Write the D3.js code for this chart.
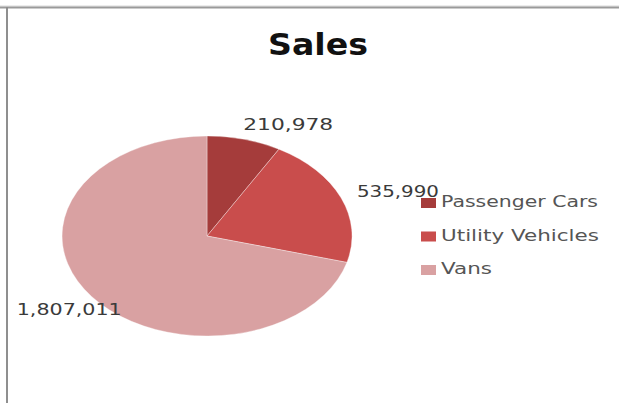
<!DOCTYPE html>
<html>
<head>
<meta charset="utf-8">
<script src="https://cdn.jsdelivr.net/npm/d3@7"></script>
<style>
  html, body { margin: 0; padding: 0; background: #fff; }
  svg { display: block; }
</style>
</head>
<body>
<svg id="chart" width="619" height="403"></svg>
<script>
// Sales by vehicle type
const categories = ["Passenger Cars", "Utility Vehicles", "Vans"];
const values = [210978, 535990, 1807011];
const colors = ["#a53c3b", "#c94d4c", "#d9a1a2"];
const title = "Sales";

const W = 619, H = 403;
const svg = d3.select("#chart");

// frame lines
svg.append("line").attr("x1", 0).attr("x2", W).attr("y1", 6).attr("y2", 6)
  .attr("stroke", "#d8d8d8").attr("stroke-width", 1);
svg.append("line").attr("x1", 0).attr("x2", W).attr("y1", 7.5).attr("y2", 7.5)
  .attr("stroke", "#9a9a9a").attr("stroke-width", 2);
svg.append("line").attr("x1", 7).attr("x2", 7).attr("y1", 7).attr("y2", H)
  .attr("stroke", "#8f8f8f").attr("stroke-width", 2);

// title
svg.append("text")
  .attr("x", 318).attr("y", 55)
  .attr("text-anchor", "middle")
  .attr("font-family", "DejaVu Sans, Verdana, sans-serif")
  .attr("font-weight", "bold")
  .attr("font-size", 30)
  .attr("fill", "#111")
  .attr("textLength", 100).attr("lengthAdjust", "spacingAndGlyphs")
  .text(title);

// elliptical pie
const cx = 207, cy = 236, rx = 145, ry = 100;
const pie = d3.pie().sort(null).value(d => d)(values);
const arc = d3.arc().innerRadius(0).outerRadius(1);

const g = svg.append("g").attr("transform", `translate(${cx},${cy}) scale(${rx},${ry})`);
g.selectAll("path.slice")
  .data(pie)
  .join("path")
  .attr("class", "slice")
  .attr("d", arc)
  .attr("fill", (d, i) => colors[i])
  .attr("stroke", "rgba(255,255,255,0.35)")
  .attr("stroke-width", 1)
  .attr("vector-effect", "non-scaling-stroke");

// data labels placed from each slice's outer edge at its mid angle
const fmt = d3.format(",");
const labelOffsets = [
  { dx: -1, dy: -9, anchor: "start", len: 90 },
  { dx: 16, dy: -1, anchor: "start", len: 82 },
  { dx: 30, dy: 18, anchor: "end", len: 105 }
];
svg.selectAll("text.val")
  .data(pie)
  .join("text")
  .attr("class", "val")
  .attr("x", (d, i) => {
    const a = (d.startAngle + d.endAngle) / 2;
    return cx + rx * Math.sin(a) + labelOffsets[i].dx;
  })
  .attr("y", (d, i) => {
    const a = (d.startAngle + d.endAngle) / 2;
    return cy - ry * Math.cos(a) + labelOffsets[i].dy;
  })
  .attr("text-anchor", (d, i) => labelOffsets[i].anchor)
  .attr("font-family", "DejaVu Sans, Verdana, sans-serif")
  .attr("font-size", 15)
  .attr("fill", "#3a3a3a")
  .attr("textLength", (d, i) => labelOffsets[i].len)
  .attr("lengthAdjust", "spacingAndGlyphs")
  .text(d => fmt(d.value));

// legend
const legendY = d3.scalePoint().domain(categories).range([207, 274]);
const legend = svg.selectAll("g.leg")
  .data(categories)
  .join("g")
  .attr("class", "leg")
  .attr("transform", d => `translate(421,${legendY(d)})`);
legend.append("rect")
  .attr("x", 0).attr("y", -9)
  .attr("width", 15).attr("height", 10)
  .attr("fill", (d, i) => colors[i]);
const legendLens = [157, 158, 51];
legend.append("text")
  .attr("x", 20).attr("y", 0)
  .attr("font-family", "DejaVu Sans, Verdana, sans-serif")
  .attr("font-size", 16.5)
  .attr("fill", "#555")
  .attr("textLength", (d, i) => legendLens[i])
  .attr("lengthAdjust", "spacingAndGlyphs")
  .text(d => d);
</script>
</body>
</html>
